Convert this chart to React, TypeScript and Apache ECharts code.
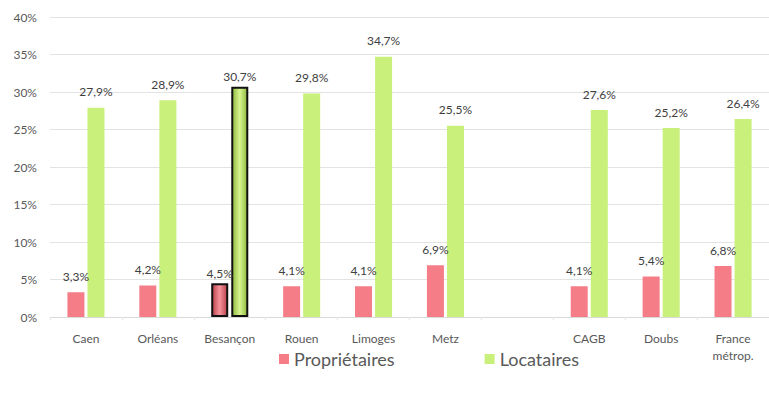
import React, { useEffect, useRef } from "react";
import * as echarts from "echarts";

const categories = ["Caen", "Orléans", "Besançon", "Rouen", "Limoges", "Metz", "", "CAGB", "Doubs", "France\nmétrop."];
const proprietaires: (number | null)[] = [3.3, 4.2, 4.5, 4.1, 4.1, 6.9, null, 4.1, 5.4, 6.8];
const locataires: (number | null)[] = [27.9, 28.9, 30.7, 29.8, 34.7, 25.5, null, 27.6, 25.2, 26.4];
const highlightIndex = 2;
const yTicks = { min: 0, max: 40, interval: 5 };

const FONT = "Lato, 'Open Sans', sans-serif";

export default function App() {
  const ref = useRef<HTMLDivElement>(null);
  useEffect(() => {
    if (!ref.current) return;
    const chart = echarts.init(ref.current, undefined, { renderer: "svg" });
    const fmt = (p: any) => (p.value == null ? "" : String(p.value).replace(".", ",") + "%");
    const mk = (vals: (number | null)[], dark: string, light: string) =>
      vals.map((v, i) =>
        i === highlightIndex
          ? {
              value: v,
              itemStyle: {
                color: new echarts.graphic.LinearGradient(0, 0, 1, 0, [
                  { offset: 0, color: dark },
                  { offset: 0.5, color: light },
                  { offset: 1, color: dark },
                ]),
                borderColor: "#111",
                borderWidth: 2,
              },
              label: { distance: 4 },
            }
          : v
      );
    chart.setOption({
      animation: false,
      textStyle: { fontFamily: FONT },
      grid: { left: 50, right: -3, top: 17, bottom: 79 },
      legend: {
        left: 274,
        top: 345,
        itemWidth: 10,
        itemHeight: 10,
        itemGap: 90,
        icon: "rect",
        textStyle: { fontSize: 18, color: "#595959", fontFamily: FONT },
        data: ["Propriétaires", "Locataires"],
      },
      xAxis: {
        type: "category",
        data: categories,
        axisLine: { lineStyle: { color: "#d9d9d9" } },
        axisTick: { show: true, length: 3, lineStyle: { color: "#e6e6e6" } },
        axisLabel: { color: "#595959", fontSize: 12, margin: 13, lineHeight: 17, fontFamily: FONT },
      },
      yAxis: {
        type: "value",
        min: yTicks.min,
        max: yTicks.max,
        interval: yTicks.interval,
        axisLabel: { formatter: (v: number) => `${v}%`, color: "#595959", fontSize: 12, margin: 13, fontFamily: FONT },
        splitLine: { lineStyle: { color: "#e3e3e3" } },
        axisLine: { show: false },
        axisTick: { show: false },
      },
      series: [
        {
          name: "Propriétaires",
          type: "bar",
          data: mk(proprietaires, "#b8414b", "#f7939b"),
          itemStyle: { color: "#f57d87" },
          barWidth: 17,
          barGap: "18%",
          label: { show: true, position: "top", distance: 10, color: "#404040", fontSize: 12, formatter: fmt, fontFamily: FONT },
        },
        {
          name: "Locataires",
          type: "bar",
          data: mk(locataires, "#8fb83f", "#d6f58e"),
          itemStyle: { color: "#c8f07a" },
          barWidth: 17,
          label: { show: true, position: "top", distance: 10, color: "#404040", fontSize: 12, formatter: fmt, fontFamily: FONT },
        },
      ],
    });
    return () => chart.dispose();
  }, []);
  return <div ref={ref} style={{ width: 769, height: 396, position: "absolute", left: 0, top: 0 }} />;
}
